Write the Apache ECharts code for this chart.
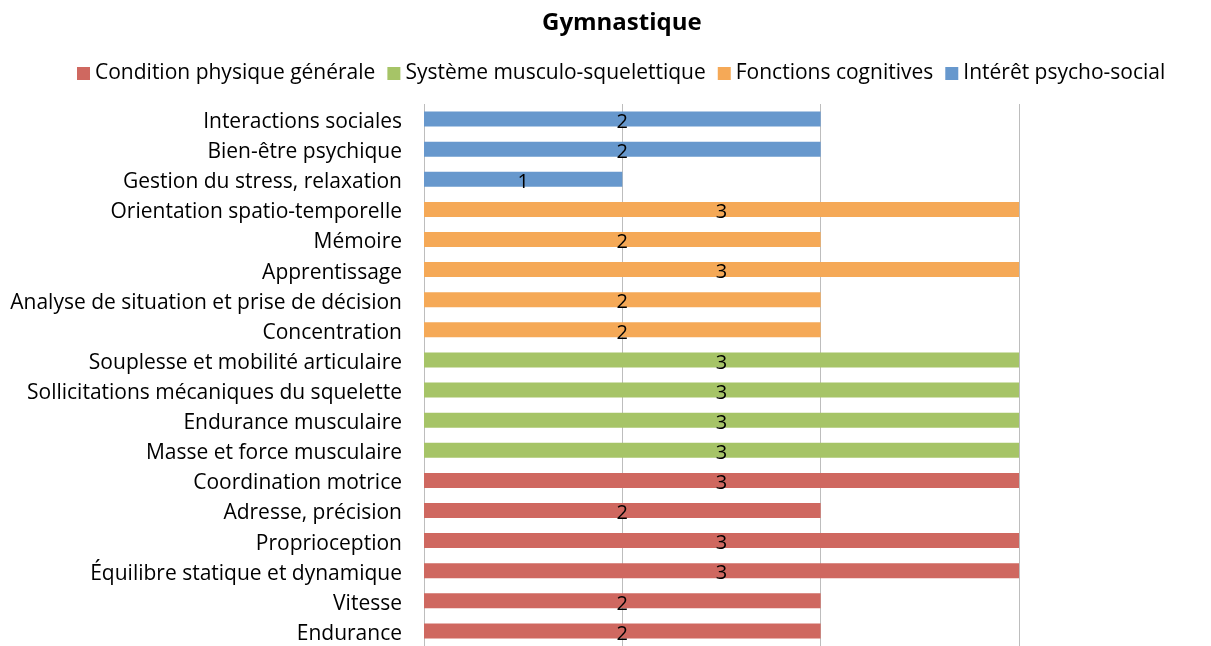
<!DOCTYPE html>
<html>
<head>
<meta charset="utf-8">
<script src="https://cdn.jsdelivr.net/npm/echarts@6/dist/echarts.min.js"></script>
<style>
  html, body { margin: 0; padding: 0; background: #fff; }
  #chart { width: 1211px; height: 646px; }
</style>
</head>
<body>
<div id="chart"></div>
<script>
// categories listed bottom to top (ECharts category axis starts at the bottom)
const categories = [
  'Endurance', 'Vitesse', 'Équilibre statique et dynamique', 'Proprioception',
  'Adresse, précision', 'Coordination motrice',
  'Masse et force musculaire', 'Endurance musculaire',
  'Sollicitations mécaniques du squelette', 'Souplesse et mobilité articulaire',
  'Concentration', 'Analyse de situation et prise de décision', 'Apprentissage',
  'Mémoire', 'Orientation spatio-temporelle',
  'Gestion du stress, relaxation', 'Bien-être psychique', 'Interactions sociales'
];
const seriesNames = ['Condition physique générale', 'Système musculo-squelettique', 'Fonctions cognitives', 'Intérêt psycho-social'];
const seriesColors = ['#CF6860', '#A6C467', '#F5A957', '#6798CD'];
const condition = [2, 2, 3, 3, 2, 3, null, null, null, null, null, null, null, null, null, null, null, null];
const musculo   = [null, null, null, null, null, null, 3, 3, 3, 3, null, null, null, null, null, null, null, null];
const cognitive = [null, null, null, null, null, null, null, null, null, null, 2, 2, 3, 2, 3, null, null, null];
const psycho    = [null, null, null, null, null, null, null, null, null, null, null, null, null, null, null, 1, 2, 2];
const seriesData = [condition, musculo, cognitive, psycho];

const font = 'Open Sans, Noto Sans, sans-serif';
const chart = echarts.init(document.getElementById('chart'));

chart.setOption({
  animation: false,
  title: {
    text: 'Gymnastique',
    left: 537,
    top: 6,
    textStyle: { fontFamily: font, fontSize: 24, fontWeight: 'bold', color: '#000' }
  },
  legend: {
    top: 58,
    left: 72,
    itemWidth: 13,
    itemHeight: 13,
    itemGap: 12,
    icon: 'rect',
    textStyle: { fontFamily: font, fontSize: 21, color: '#000' },
    data: seriesNames
  },
  grid: { left: 424, right: 192, top: 104, bottom: -3, containLabel: false },
  xAxis: {
    type: 'value',
    min: 0,
    max: 3,
    interval: 1,
    axisLabel: { show: false },
    axisLine: { show: false },
    axisTick: { show: false },
    splitLine: { show: true, lineStyle: { color: '#BDBDBD', width: 1 } }
  },
  yAxis: {
    type: 'category',
    data: categories,
    axisLine: { show: false },
    axisTick: { show: false },
    axisLabel: {
      margin: 22,
      formatter: v => '{a|' + v + '}',
      rich: { a: { fontFamily: font, fontSize: 21, color: '#000', padding: [6, 0, 0, 0] } }
    }
  },
  series: seriesData.map((d, i) => ({
    name: seriesNames[i],
    type: 'bar',
    stack: 'total',
    barWidth: 15,
    data: d,
    itemStyle: { color: seriesColors[i] },
    label: {
      show: true,
      position: 'inside',
      offset: [0, 3],
      fontFamily: font,
      fontSize: 20,
      color: '#000'
    }
  }))
});
</script>
</body>
</html>
